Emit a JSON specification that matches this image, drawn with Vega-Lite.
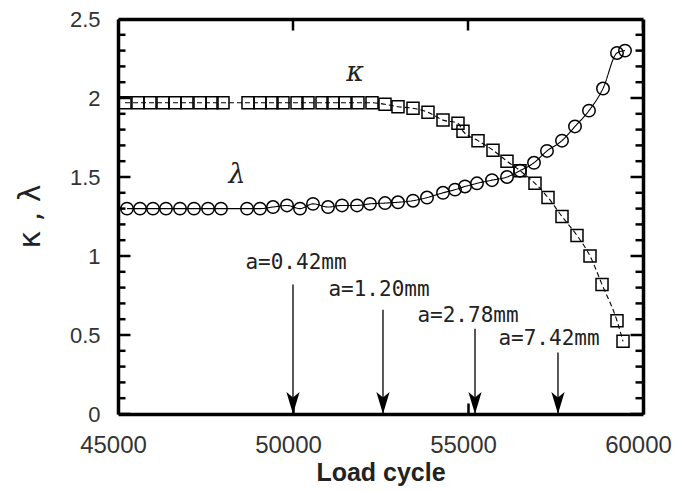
{
  "$schema": "https://vega.github.io/schema/vega-lite/v6.json",
  "width": 525,
  "height": 395,
  "autosize": "none",
  "padding": {"left": 118, "top": 19, "right": 35, "bottom": 77},
  "background": "white",
  "config": {
    "view": {"stroke": null},
    "font": "Liberation Sans",
    "axis": {"domain": true, "domainColor": "black", "domainWidth": 3.5, "grid": false}
  },
  "datasets": {
    "series": [
      {"cycle": 45200, "value": 1.97, "param": "κ"},
      {"cycle": 45571, "value": 1.97, "param": "κ"},
      {"cycle": 45914, "value": 1.97, "param": "κ"},
      {"cycle": 46286, "value": 1.97, "param": "κ"},
      {"cycle": 46629, "value": 1.97, "param": "κ"},
      {"cycle": 46971, "value": 1.97, "param": "κ"},
      {"cycle": 47343, "value": 1.97, "param": "κ"},
      {"cycle": 47686, "value": 1.97, "param": "κ"},
      {"cycle": 48000, "value": 1.97, "param": "κ"},
      {"cycle": 48714, "value": 1.97, "param": "κ"},
      {"cycle": 49057, "value": 1.97, "param": "κ"},
      {"cycle": 49400, "value": 1.97, "param": "κ"},
      {"cycle": 49714, "value": 1.97, "param": "κ"},
      {"cycle": 50114, "value": 1.97, "param": "κ"},
      {"cycle": 50429, "value": 1.97, "param": "κ"},
      {"cycle": 50829, "value": 1.97, "param": "κ"},
      {"cycle": 51143, "value": 1.97, "param": "κ"},
      {"cycle": 51486, "value": 1.97, "param": "κ"},
      {"cycle": 51857, "value": 1.97, "param": "κ"},
      {"cycle": 52257, "value": 1.97, "param": "κ"},
      {"cycle": 52629, "value": 1.96, "param": "κ"},
      {"cycle": 53000, "value": 1.945, "param": "κ"},
      {"cycle": 53429, "value": 1.935, "param": "κ"},
      {"cycle": 53857, "value": 1.91, "param": "κ"},
      {"cycle": 54286, "value": 1.86, "param": "κ"},
      {"cycle": 54714, "value": 1.84, "param": "κ"},
      {"cycle": 54857, "value": 1.79, "param": "κ"},
      {"cycle": 55286, "value": 1.73, "param": "κ"},
      {"cycle": 55714, "value": 1.67, "param": "κ"},
      {"cycle": 56114, "value": 1.6, "param": "κ"},
      {"cycle": 56486, "value": 1.54, "param": "κ"},
      {"cycle": 56914, "value": 1.46, "param": "κ"},
      {"cycle": 57286, "value": 1.37, "param": "κ"},
      {"cycle": 57686, "value": 1.25, "param": "κ"},
      {"cycle": 58114, "value": 1.13, "param": "κ"},
      {"cycle": 58486, "value": 1.0, "param": "κ"},
      {"cycle": 58829, "value": 0.82, "param": "κ"},
      {"cycle": 59257, "value": 0.59, "param": "κ"},
      {"cycle": 59429, "value": 0.46, "param": "κ"},
      {"cycle": 45257, "value": 1.3, "param": "λ"},
      {"cycle": 45629, "value": 1.3, "param": "λ"},
      {"cycle": 46000, "value": 1.3, "param": "λ"},
      {"cycle": 46371, "value": 1.3, "param": "λ"},
      {"cycle": 46771, "value": 1.3, "param": "λ"},
      {"cycle": 47171, "value": 1.3, "param": "λ"},
      {"cycle": 47571, "value": 1.3, "param": "λ"},
      {"cycle": 47943, "value": 1.3, "param": "λ"},
      {"cycle": 48686, "value": 1.3, "param": "λ"},
      {"cycle": 49057, "value": 1.3, "param": "λ"},
      {"cycle": 49429, "value": 1.31, "param": "λ"},
      {"cycle": 49829, "value": 1.32, "param": "λ"},
      {"cycle": 50200, "value": 1.3, "param": "λ"},
      {"cycle": 50571, "value": 1.33, "param": "λ"},
      {"cycle": 51000, "value": 1.31, "param": "λ"},
      {"cycle": 51400, "value": 1.32, "param": "λ"},
      {"cycle": 51829, "value": 1.32, "param": "λ"},
      {"cycle": 52200, "value": 1.33, "param": "λ"},
      {"cycle": 52629, "value": 1.335, "param": "λ"},
      {"cycle": 53000, "value": 1.34, "param": "λ"},
      {"cycle": 53429, "value": 1.35, "param": "λ"},
      {"cycle": 53829, "value": 1.37, "param": "λ"},
      {"cycle": 54286, "value": 1.4, "param": "λ"},
      {"cycle": 54629, "value": 1.42, "param": "λ"},
      {"cycle": 54914, "value": 1.44, "param": "λ"},
      {"cycle": 55257, "value": 1.46, "param": "λ"},
      {"cycle": 55686, "value": 1.48, "param": "λ"},
      {"cycle": 56114, "value": 1.5, "param": "λ"},
      {"cycle": 56486, "value": 1.54, "param": "λ"},
      {"cycle": 56886, "value": 1.59, "param": "λ"},
      {"cycle": 57257, "value": 1.665, "param": "λ"},
      {"cycle": 57686, "value": 1.73, "param": "λ"},
      {"cycle": 58057, "value": 1.82, "param": "λ"},
      {"cycle": 58457, "value": 1.92, "param": "λ"},
      {"cycle": 58857, "value": 2.06, "param": "λ"},
      {"cycle": 59257, "value": 2.285, "param": "λ"},
      {"cycle": 59486, "value": 2.3, "param": "λ"}
    ],
    "arrows": [
      {"cycle": 50000, "top": 0.82, "label": "a=0.42mm", "lx": 50086, "ly": 0.956},
      {"cycle": 52571, "top": 0.66, "label": "a=1.20mm", "lx": 52457, "ly": 0.785},
      {"cycle": 55200, "top": 0.54, "label": "a=2.78mm", "lx": 55000, "ly": 0.62},
      {"cycle": 57571, "top": 0.39, "label": "a=7.42mm", "lx": 57314, "ly": 0.475}
    ],
    "greek": [
      {"cycle": 51771, "value": 2.16, "text": "κ"},
      {"cycle": 48400, "value": 1.51, "text": "λ"}
    ],
    "yticks": [
      {"v": 0, "kind": "major"}, {"v": 0.1, "kind": "minor"}, {"v": 0.2, "kind": "minor"}, {"v": 0.3, "kind": "minor"}, {"v": 0.4, "kind": "minor"},
      {"v": 0.5, "kind": "major"}, {"v": 0.6, "kind": "minor"}, {"v": 0.7, "kind": "minor"}, {"v": 0.8, "kind": "minor"}, {"v": 0.9, "kind": "minor"},
      {"v": 1.0, "kind": "major"}, {"v": 1.1, "kind": "minor"}, {"v": 1.2, "kind": "minor"}, {"v": 1.3, "kind": "minor"}, {"v": 1.4, "kind": "minor"},
      {"v": 1.5, "kind": "major"}, {"v": 1.6, "kind": "minor"}, {"v": 1.7, "kind": "minor"}, {"v": 1.8, "kind": "minor"}, {"v": 1.9, "kind": "minor"},
      {"v": 2.0, "kind": "major"}, {"v": 2.1, "kind": "minor"}, {"v": 2.2, "kind": "minor"}, {"v": 2.3, "kind": "minor"}, {"v": 2.4, "kind": "minor"},
      {"v": 2.5, "kind": "major"}
    ],
    "xticks": [
      {"v": 45000, "kind": "major"}, {"v": 50000, "kind": "major"}, {"v": 55000, "kind": "major"}, {"v": 60000, "kind": "major"}
    ]
  },
  "layer": [
    {
      "data": {"name": "series"},
      "mark": {"type": "line", "color": "black", "strokeWidth": 1.1, "interpolate": "monotone"},
      "encoding": {
        "x": {
          "field": "cycle", "type": "quantitative",
          "scale": {"domain": [45000, 60000], "nice": false, "zero": false},
          "axis": {
            "orient": "bottom", "values": [45000, 50000, 55000, 60000], "format": "d",
            "ticks": true, "tickSize": -11, "tickColor": "black", "tickWidth": 2.5,
            "labelPadding": 30, "labelFontSize": 24, "labelColor": "#333", "labelOffset": -5,
            "labelFlush": false, "labelOverlap": false, "labelBound": false,
            "title": "Load cycle", "titleFontSize": 25, "titleFontWeight": "bold", "titleColor": "#222",
            "titleY": 66, "titleBaseline": "alphabetic"
          }
        },
        "y": {
          "field": "value", "type": "quantitative",
          "scale": {"domain": [0, 2.5], "nice": false, "zero": false},
          "axis": {
            "orient": "left",
            "values": [0, 0.5, 1, 1.5, 2, 2.5],
            "labelExpr": "toString(datum.value)",
            "ticks": false, "tickSize": 0,
            "labelPadding": 18, "labelFontSize": 22, "labelColor": "#333",
            "labelFlush": false, "labelOverlap": false, "labelBound": false,
            "title": "κ , λ", "titleFont": "DejaVu Sans", "titleFontSize": 30, "titleFontWeight": "normal",
            "titleColor": "#222", "titleAngle": 270, "titleAlign": "center", "titleBaseline": "middle",
            "titleX": -88, "titleY": 197
          }
        },
        "strokeDash": {
          "field": "param", "type": "nominal",
          "scale": {"domain": ["κ", "λ"], "range": [[5, 3], [1, 0]]},
          "legend": null
        }
      }
    },
    {
      "data": {"name": "series"},
      "mark": {"type": "point", "filled": false, "color": "black", "strokeWidth": 1.5, "opacity": 1},
      "encoding": {
        "x": {
          "field": "cycle", "type": "quantitative",
          "axis": {"orient": "top", "labels": false, "title": null, "ticks": false, "tickSize": 0}
        },
        "y": {
          "field": "value", "type": "quantitative",
          "axis": {"orient": "right", "labels": false, "title": null, "ticks": false, "tickSize": 0}
        },
        "shape": {
          "field": "param", "type": "nominal",
          "scale": {"domain": ["κ", "λ"], "range": ["square", "circle"]},
          "legend": null
        },
        "size": {
          "field": "param", "type": "nominal",
          "scale": {"domain": ["κ", "λ"], "range": [144, 155]},
          "legend": null
        }
      }
    },
    {
      "data": {"name": "yticks"},
      "mark": {"type": "tick", "orient": "horizontal", "clip": true, "color": "black", "thickness": 2.5, "opacity": 1},
      "encoding": {
        "y": {"field": "v", "type": "quantitative", "axis": null},
        "x": {"datum": 45000, "type": "quantitative", "axis": null},
        "size": {"field": "kind", "type": "nominal", "scale": {"domain": ["major", "minor"], "range": [25, 15]}, "legend": null}
      }
    },
    {
      "data": {"name": "yticks"},
      "mark": {"type": "tick", "orient": "horizontal", "clip": true, "color": "black", "thickness": 2.5, "opacity": 1},
      "encoding": {
        "y": {"field": "v", "type": "quantitative", "axis": null},
        "x": {"datum": 60000, "type": "quantitative", "axis": null},
        "size": {"field": "kind", "type": "nominal", "scale": {"domain": ["major", "minor"], "range": [25, 15]}, "legend": null}
      }
    },
    {
      "data": {"name": "xticks"},
      "mark": {"type": "tick", "orient": "vertical", "clip": true, "color": "black", "thickness": 2.5, "opacity": 1},
      "encoding": {
        "x": {"field": "v", "type": "quantitative", "axis": null},
        "y": {"datum": 2.5, "type": "quantitative", "axis": null},
        "size": {"field": "kind", "type": "nominal", "scale": {"domain": ["major", "minor"], "range": [23, 15]}, "legend": null}
      }
    },
    {
      "data": {"name": "arrows"},
      "mark": {"type": "rule", "color": "black", "strokeWidth": 1.3},
      "encoding": {
        "x": {"field": "cycle", "type": "quantitative", "axis": null},
        "y": {"field": "top", "type": "quantitative", "axis": null},
        "y2": {"datum": 0}
      }
    },
    {
      "data": {"name": "arrows"},
      "mark": {"type": "point", "shape": "M0,0 L-0.6,-2 L0,-1.5 L0.6,-2 Z", "filled": true, "color": "black", "size": 484, "opacity": 1},
      "encoding": {
        "x": {"field": "cycle", "type": "quantitative", "axis": null},
        "y": {"datum": 0, "type": "quantitative", "axis": null}
      }
    },
    {
      "data": {"name": "arrows"},
      "mark": {"type": "text", "font": "DejaVu Sans Mono", "fontSize": 21, "color": "#222", "align": "center", "baseline": "middle"},
      "encoding": {
        "x": {"field": "lx", "type": "quantitative", "axis": null},
        "y": {"field": "ly", "type": "quantitative", "axis": null},
        "text": {"field": "label"}
      }
    },
    {
      "data": {"name": "greek"},
      "mark": {"type": "text", "font": "DejaVu Serif", "fontStyle": "italic", "fontSize": 27, "color": "#222", "align": "center", "baseline": "middle"},
      "encoding": {
        "x": {"field": "cycle", "type": "quantitative", "axis": null},
        "y": {"field": "value", "type": "quantitative", "axis": null},
        "text": {"field": "text"}
      }
    }
  ],
  "resolve": {"axis": {"x": "independent", "y": "independent"}, "scale": {"size": "independent"}}
}
